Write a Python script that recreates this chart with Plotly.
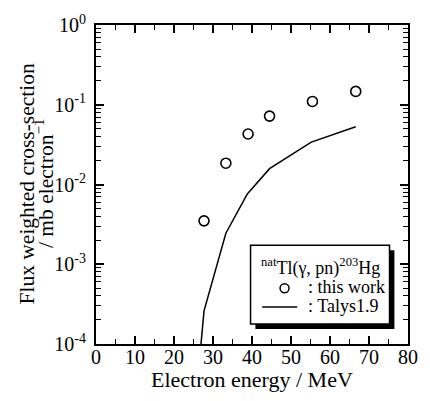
import numpy as np
import plotly.graph_objects as go

# ---- data ----
exp_energy = [27.7, 33.3, 39.0, 44.5, 55.5, 66.6]
exp_xs = [0.0035, 0.0185, 0.043, 0.072, 0.110, 0.147]

talys_energy = [26.5, 27.7, 33.3, 38.8, 44.5, 55.2, 66.6]
talys_xs = [6.0e-5, 2.6e-4, 2.45e-3, 7.6e-3, 0.0158, 0.034, 0.053]

x_ticks = [0, 10, 20, 30, 40, 50, 60, 70, 80]
y_tickvals = [1e-4, 1e-3, 1e-2, 1e-1, 1e0]
y_ticktext = ["10<sup>-4</sup>", "10<sup>-3</sup>", "10<sup>-2</sup>", "10<sup>-1</sup>", "10<sup>0</sup>"]

legend_title = "<sup>nat</sup>Tl(γ, pn)<sup>203</sup>Hg"
legend_labels = [": this work", ": Talys1.9"]

FONT = "Liberation Serif, Times New Roman, serif"
W, H = 430, 401
L, R, T, B = 96, 13, 24, 57
PW, PH = W - L - R, H - T - B


def pxx(p):
    return (p - L) / PW


def pxy(p):
    return (H - B - p) / PH


fig = go.Figure()
fig.add_trace(go.Scatter(
    x=talys_energy, y=talys_xs, mode="lines",
    line=dict(color="black", width=1.5), showlegend=False,
))
fig.add_trace(go.Scatter(
    x=exp_energy, y=exp_xs, mode="markers",
    marker=dict(symbol="circle-open", size=10, color="black", line=dict(width=1.6)),
    showlegend=False,
))

minor_y = [m * 10.0 ** e for e in range(-4, 0) for m in range(2, 10)]

fig.update_xaxes(
    range=[0, 80], tickmode="array", tickvals=x_ticks,
    ticks="inside", ticklen=8, tickwidth=1.5, tickcolor="black",
    showline=True, linecolor="black", linewidth=2, mirror="allticks",
    showgrid=False, zeroline=False,
    minor=dict(tickmode="linear", tick0=0, dtick=5, ticks="inside", ticklen=5,
               tickwidth=1.2, tickcolor="black", showgrid=False),
    tickfont=dict(family=FONT, size=20, color="black"),
    ticklabelstandoff=-6,
)
fig.update_yaxes(
    type="log", range=[-4, 0], tickmode="array", tickvals=y_tickvals, ticktext=y_ticktext,
    ticks="inside", ticklen=8, tickwidth=1.5, tickcolor="black",
    showline=True, linecolor="black", linewidth=2, mirror="allticks",
    showgrid=False, zeroline=False,
    minor=dict(tickmode="array", tickvals=minor_y, ticks="inside", ticklen=5,
               tickwidth=1.2, tickcolor="black", showgrid=False),
    tickfont=dict(family=FONT, size=20, color="black"),
    ticklabelstandoff=4,
)

shapes = []
# legend shadow and box
shapes.append(dict(type="rect", xref="paper", yref="paper",
                   x0=pxx(260), x1=pxx(403), y0=pxy(329), y1=pxy(250),
                   fillcolor="black", line=dict(width=0), layer="above"))
shapes.append(dict(type="rect", xref="paper", yref="paper",
                   x0=pxx(255), x1=pxx(398), y0=pxy(324), y1=pxy(245),
                   fillcolor="white", line=dict(color="black", width=1.5), layer="above"))
# legend glyphs
shapes.append(dict(type="circle", xref="paper", yref="paper",
                   xsizemode="pixel", ysizemode="pixel",
                   xanchor=pxx(290), yanchor=pxy(288),
                   x0=-4.5, x1=4.5, y0=-4.5, y1=4.5,
                   line=dict(color="black", width=1.5), layer="above"))
shapes.append(dict(type="line", xref="paper", yref="paper",
                   x0=pxx(267), x1=pxx(303), y0=pxy(307), y1=pxy(307),
                   line=dict(color="black", width=1.5), layer="above"))

annotations = [
    dict(text=legend_title, xref="paper", yref="paper", x=pxx(327), y=pxy(267),
         xanchor="center", yanchor="middle", showarrow=False,
         font=dict(family=FONT, size=18, color="black")),
    dict(text=legend_labels[0], xref="paper", yref="paper", x=pxx(312), y=pxy(287),
         xanchor="left", yanchor="middle", showarrow=False,
         font=dict(family=FONT, size=18, color="black")),
    dict(text=legend_labels[1], xref="paper", yref="paper", x=pxx(312), y=pxy(306),
         xanchor="left", yanchor="middle", showarrow=False,
         font=dict(family=FONT, size=18, color="black")),
    dict(text="Electron energy / MeV", xref="paper", yref="paper",
         x=pxx(257), y=pxy(380), xanchor="center", yanchor="middle",
         showarrow=False, font=dict(family=FONT, size=22, color="black")),
    dict(text="Flux weighted cross-section", xref="paper", yref="paper",
         x=pxx(25), y=pxy(183), textangle=-90, xanchor="center", yanchor="middle",
         showarrow=False, font=dict(family=FONT, size=21.5, color="black")),
    dict(text="/ mb electron<sup>−1</sup>", xref="paper", yref="paper",
         x=pxx(43), y=pxy(183), textangle=-90, xanchor="center", yanchor="middle",
         showarrow=False, font=dict(family=FONT, size=21.5, color="black")),
]

fig.update_layout(
    width=W, height=H,
    margin=dict(l=L, r=R, t=T, b=B),
    paper_bgcolor="white", plot_bgcolor="white",
    font=dict(family=FONT, color="black"),
    shapes=shapes, annotations=annotations,
    showlegend=False,
)

fig.write_html("out.html")
